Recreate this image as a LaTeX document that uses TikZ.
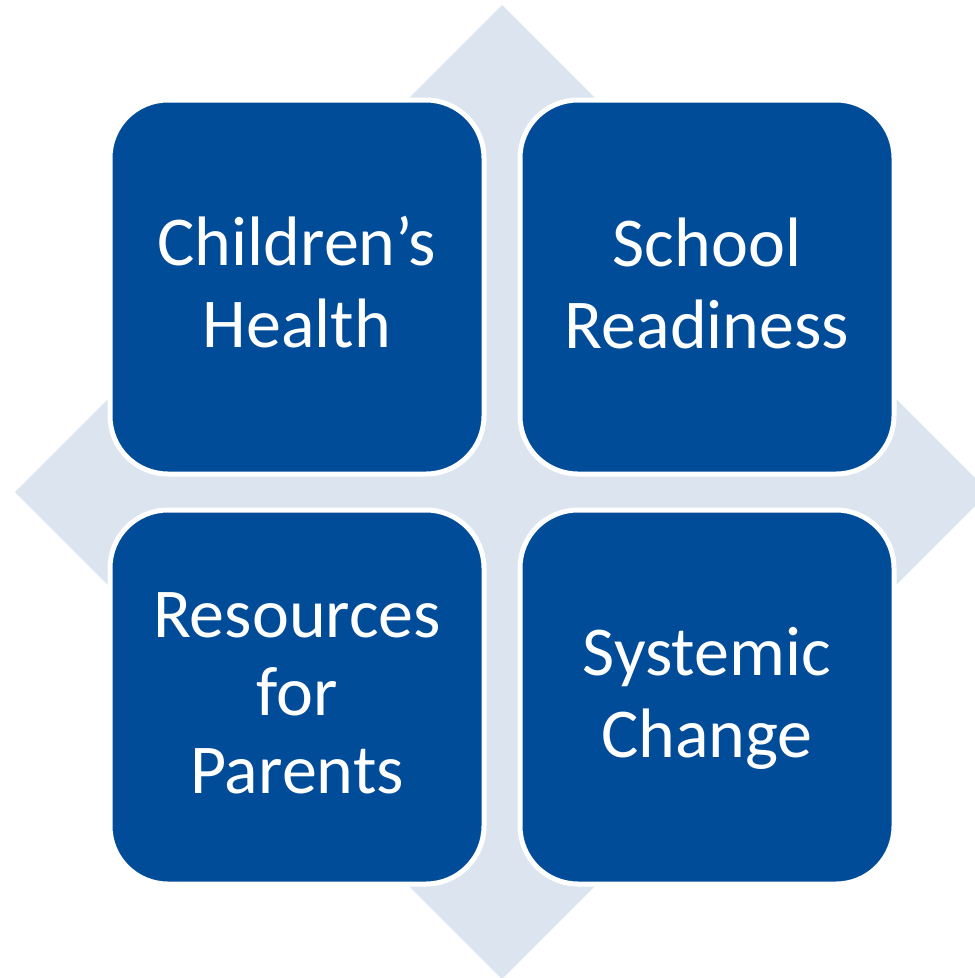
\documentclass[tikz,border=0pt]{standalone}
\usepackage{fontspec}
\setmainfont{Carlito}
\definecolor{boxblue}{HTML}{004C99}
\definecolor{diamondblue}{HTML}{DBE4EF}
\tikzset{
  px/.style={x=1pt,y=-1pt},
  tile/.style={fill=boxblue, draw=white, line width=5pt, rounded corners=58pt},
  lbl/.style={text=white, align=center, anchor=base, inner sep=0pt,
    font=\fontsize{70pt}{82pt}\selectfont},
  lblthree/.style={lbl, font=\fontsize{70pt}{78pt}\selectfont}
}
\begin{document}
\begin{tikzpicture}[px]
\useasboundingbox (0,0) rectangle (975,978);
\begin{scope}
\clip (0,0) rectangle (975,978);
\fill[diamondblue] (502,5) -- (989,492) -- (502,979) -- (15,492) -- cycle;
\end{scope}
\draw[tile] (110,100) rectangle (484,474);
\draw[tile] (520,100) rectangle (894,474);
\draw[tile] (110,510) rectangle (484,884);
\draw[tile] (520,510) rectangle (894,884);
\node[lbl] (ch) at (297,347) {Children’s\\Health};
\node[lbl] (sr) at (707,348) {School\\Readiness};
\node[lblthree] (rp) at (297,793) {Resources\\for\\Parents};
\node[lbl] (sc) at (707,757) {Systemic\\Change};
\end{tikzpicture}
\end{document}
